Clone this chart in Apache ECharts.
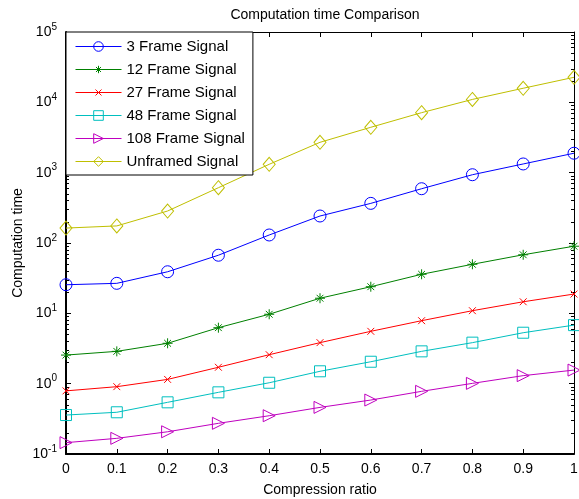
<!DOCTYPE html>
<html>
<head>
<meta charset="utf-8">
<script src="https://cdn.jsdelivr.net/npm/echarts@6/dist/echarts.min.js"></script>
<style>
  html, body { margin: 0; padding: 0; background: #fff; }
  #chart { width: 579px; height: 499px; }
</style>
</head>
<body>
<div id="chart"></div>
<script>
// Compression ratios on the x axis
const ratios = [0, 0.1, 0.2, 0.3, 0.4, 0.5, 0.6, 0.7, 0.8, 0.9, 1];
const xTickLabels = ['0', '0.1', '0.2', '0.3', '0.4', '0.5', '0.6', '0.7', '0.8', '0.9', '1'];

// Computation time for each signal framing
const frame3 = [25.5, 26.7, 39, 67, 130, 242, 366, 591, 935, 1330, 1890];
const frame12 = [2.55, 2.88, 3.75, 6.25, 9.7, 16.4, 23.9, 35.9, 49.8, 68, 90];
const frame27 = [0.79, 0.906, 1.15, 1.71, 2.58, 3.83, 5.55, 7.86, 10.9, 14.6, 18.8];
const frame48 = [0.358, 0.392, 0.543, 0.753, 1.03, 1.5, 2.05, 2.88, 3.83, 5.3, 6.8];
const frame108 = [0.145, 0.167, 0.207, 0.273, 0.35, 0.46, 0.585, 0.778, 1.01, 1.3, 1.56];
const unframed = [163, 175, 285, 611, 1315, 2700, 4420, 7130, 11000, 15850, 22700];

const seriesNames = ['3 Frame Signal', '12 Frame Signal', '27 Frame Signal',
  '48 Frame Signal', '108 Frame Signal', 'Unframed Signal'];

// Decade exponents shown on the y axis
const yExponents = ['-1', '0', '1', '2', '3', '4', '5'];

const FONT = '"Liberation Sans", Arial, sans-serif';

// Marker outlines; the star and cross carry a blank margin (move-to points)
// so they come out smaller than the box they are fitted into.
const markers = {
  circle: 'path://M12,6A6,6 0 1 1 0,6A6,6 0 1 1 12,6Z',
  star: 'path://M-1.5,-1.5M5,0L5,10M0,5L10,5M1.6,1.6L8.4,8.4M1.6,8.4L8.4,1.6M11.5,11.5',
  cross: 'path://M-3,-3M0,0L10,10M0,10L10,0M13,13',
  square: 'path://M0,0L10,0L10,10L0,10Z',
  triRight: 'path://M0,0L12,6L0,12Z',
  diamond: 'path://M6,0L12,7L6,14L0,7Z'
};

function pairs(values) {
  return ratios.map((r, i) => [r, values[i]]);
}

function lineSeries(name, values, color, symbol, size) {
  return {
    name: name,
    type: 'line',
    data: pairs(values),
    symbol: symbol,
    symbolSize: size,
    showAllSymbol: true,
    lineStyle: { color: color, width: 1 },
    itemStyle: { color: 'none', borderColor: color, borderWidth: 1 },
    emphasis: { disabled: true },
    animation: false,
    z: 3
  };
}

const chart = echarts.init(document.getElementById('chart'), null, { renderer: 'canvas' });

const option = {
  backgroundColor: '#fff',
  animation: false,
  title: {
    text: 'Computation time Comparison',
    left: 320,
    top: 3,
    textAlign: 'center',
    textStyle: { fontFamily: FONT, fontSize: 14, fontWeight: 'normal', color: '#000' }
  },
  legend: {
    data: seriesNames,
    orient: 'vertical',
    left: 66,
    top: 32,
    itemWidth: 46,
    itemHeight: 12,
    itemGap: 6,
    padding: [6, 8, 5, 9],
    backgroundColor: '#fff',
    borderColor: '#000',
    borderWidth: 1,
    borderRadius: 0,
    itemStyle: { color: 'none', borderWidth: 1 },
    lineStyle: { width: 1 },
    textStyle: { fontFamily: FONT, fontSize: 15, lineHeight: 17, color: '#000' },
    selectedMode: false,
    z: 10
  },
  grid: { left: 66, right: 5, top: 32, bottom: 45, outerBoundsMode: 'none', containLabel: false },
  xAxis: [{
    type: 'value',
    min: 0,
    max: 1,
    interval: 0.1,
    name: 'Compression ratio',
    nameLocation: 'middle',
    nameGap: 29,
    nameMoveOverlap: false,
    nameTextStyle: { fontFamily: FONT, fontSize: 14, color: '#000' },
    axisLine: { show: true, onZero: false, lineStyle: { color: '#000', width: 2 } },
    axisTick: { show: true, inside: true, length: 5, lineStyle: { color: '#000' } },
    splitLine: { show: false },
    axisLabel: {
      fontFamily: FONT, fontSize: 14, color: '#000', margin: 8,
      formatter: function (v) {
        const i = Math.round(v * 10);
        return xTickLabels[i] !== undefined ? xTickLabels[i] : '';
      }
    }
  }, {
    type: 'value',
    position: 'top',
    min: 0,
    max: 1,
    interval: 0.1,
    axisLine: { show: true, onZero: false, lineStyle: { color: '#000', width: 1 } },
    axisTick: { show: true, inside: true, length: 5, lineStyle: { color: '#000' } },
    axisLabel: { show: false },
    splitLine: { show: false }
  }],
  yAxis: [{
    type: 'log',
    logBase: 10,
    min: 0.1,
    max: 100000,
    name: 'Computation time',
    nameLocation: 'middle',
    nameGap: 41,
    nameMoveOverlap: false,
    nameTextStyle: { fontFamily: FONT, fontSize: 14, color: '#000' },
    axisLine: { show: true, onZero: false, lineStyle: { color: '#000', width: 2 } },
    axisTick: { show: true, inside: true, length: 5, lineStyle: { color: '#000' } },
    minorTick: { show: true, splitNumber: 9, length: 3, lineStyle: { color: '#000' } },
    splitLine: { show: false },
    minorSplitLine: { show: false },
    axisLabel: {
      margin: 9,
      formatter: function (v) {
        const e = Math.round(Math.log10(v));
        const idx = e + 1;
        return '{b|10}{e|' + (yExponents[idx] !== undefined ? yExponents[idx] : e) + '}';
      },
      rich: {
        b: { fontFamily: FONT, fontSize: 14, color: '#000' },
        e: { fontFamily: FONT, fontSize: 10, color: '#000', padding: [0, 0, 10, 0] }
      }
    }
  }, {
    type: 'log',
    logBase: 10,
    min: 0.1,
    max: 100000,
    position: 'right',
    axisLine: { show: true, onZero: false, lineStyle: { color: '#000', width: 1 } },
    axisTick: { show: true, inside: true, length: 5, lineStyle: { color: '#000' } },
    minorTick: { show: true, splitNumber: 9, length: 3, lineStyle: { color: '#000' } },
    axisLabel: { show: false },
    splitLine: { show: false },
    minorSplitLine: { show: false }
  }],
  series: [
    lineSeries(seriesNames[0], frame3, '#0000ff', markers.circle, 12),
    lineSeries(seriesNames[1], frame12, '#008000', markers.star, 13),
    lineSeries(seriesNames[2], frame27, '#ff0000', markers.cross, 11),
    lineSeries(seriesNames[3], frame48, '#00bfbf', markers.square, 11),
    lineSeries(seriesNames[4], frame108, '#bf00bf', markers.triRight, 12),
    lineSeries(seriesNames[5], unframed, '#bfbf00', markers.diamond, [12, 14])
  ]
};

chart.setOption(option);
</script>
</body>
</html>
